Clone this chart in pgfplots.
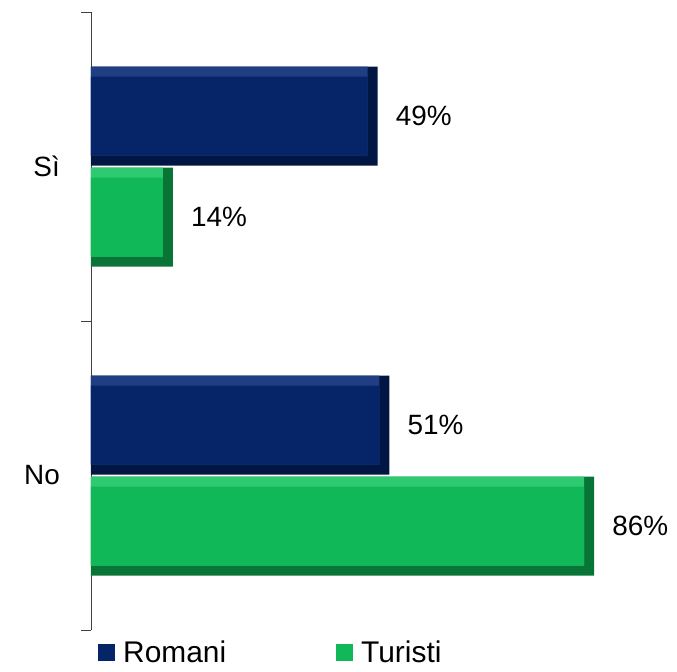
\documentclass[border=0pt]{standalone}
\usepackage{fontspec}
\setmainfont{Liberation Sans}
\usepackage{pgfplots}
\pgfplotsset{compat=1.18}

\definecolor{navy}{RGB}{6,36,104}
\definecolor{navyd}{RGB}{2,22,68}
\definecolor{navyl}{RGB}{32,62,132}
\definecolor{verde}{RGB}{16,184,88}
\definecolor{verded}{RGB}{8,116,54}
\definecolor{verdel}{RGB}{46,202,114}

\pgfplotstableread{
cat val
0   49
1   51
}\romani
\pgfplotstableread{
cat val
0   14
1   86
}\turisti

\pgfplotsset{
  lbl/.style={nodes near coords={\pgfmathprintnumber[assume math mode=true]{\pgfplotspointmeta}\%},
    every node near coord/.append style={font=\fontsize{28}{30}\selectfont,
      inner sep=0pt, xshift=18bp, black}},
}

\begin{document}
\begin{tikzpicture}
  \begin{axis}[
    name=ax,
    scale only axis,
    width=585bp, height=618bp,
    xbar,
    xmin=0, xmax=100,
    ymin=-0.5, ymax=1.5,
    y dir=reverse,
    axis x line=none,
    axis y line*=left,
    axis line style={draw=black!75, line width=0.8pt},
    ytick={0,1},
    yticklabels={Sì,No},
    minor ytick={-0.5,0.5,1.5},
    major tick length=0pt,
    minor tick length=10bp,
    tick align=outside,
    tick style={draw=black!75, line width=0.8pt},
    yticklabel style={inner sep=0pt, anchor=east, xshift=-31bp},
    every tick label/.append style={font=\fontsize{28}{30}\selectfont},
    legend columns=2,
    legend style={at={(0.012,-0.018)}, anchor=north west, draw=none,
      fill=none, inner sep=0pt,
      font=\fontsize{30}{32}\selectfont,
      nodes={inner sep=0pt, outer sep=0pt, text depth=0pt},
      /tikz/every odd column/.append style={column sep=8bp},
      /tikz/every even column/.append style={column sep=110bp}},
  ]
    % Romani: bevel edge, lit top, face
    \addplot[fill=navyd, draw=none, bar width=99bp, bar shift=50.5bp, lbl,
      legend image code/.code={\fill[navy] (0bp,-8.5bp) rectangle (17bp,8.5bp);}]
      table[x=val, y=cat] {\romani};
    \addplot[fill=navyl, draw=none, bar width=89bp, bar shift=55.5bp,
      xshift=-10bp, forget plot] table[x=val, y=cat] {\romani};
    \addplot[fill=navy, draw=none, bar width=79bp, bar shift=50.5bp,
      xshift=-10bp, forget plot] table[x=val, y=cat] {\romani};
    % Turisti: bevel edge, lit top, face
    \addplot[fill=verded, draw=none, bar width=99bp, bar shift=-50.5bp, lbl,
      legend image code/.code={\fill[verde] (0bp,-8.5bp) rectangle (17bp,8.5bp);}]
      table[x=val, y=cat] {\turisti};
    \addplot[fill=verdel, draw=none, bar width=89bp, bar shift=-45.5bp,
      xshift=-10bp, forget plot] table[x=val, y=cat] {\turisti};
    \addplot[fill=verde, draw=none, bar width=79bp, bar shift=-50.5bp,
      xshift=-10bp, forget plot] table[x=val, y=cat] {\turisti};
    \legend{Romani, Turisti}
  \end{axis}
  \pgfresetboundingbox
  \path[use as bounding box] ([xshift=-91bp,yshift=-42bp]ax.south west)
    rectangle ([xshift=1bp,yshift=12bp]ax.north east);
\end{tikzpicture}
\end{document}
